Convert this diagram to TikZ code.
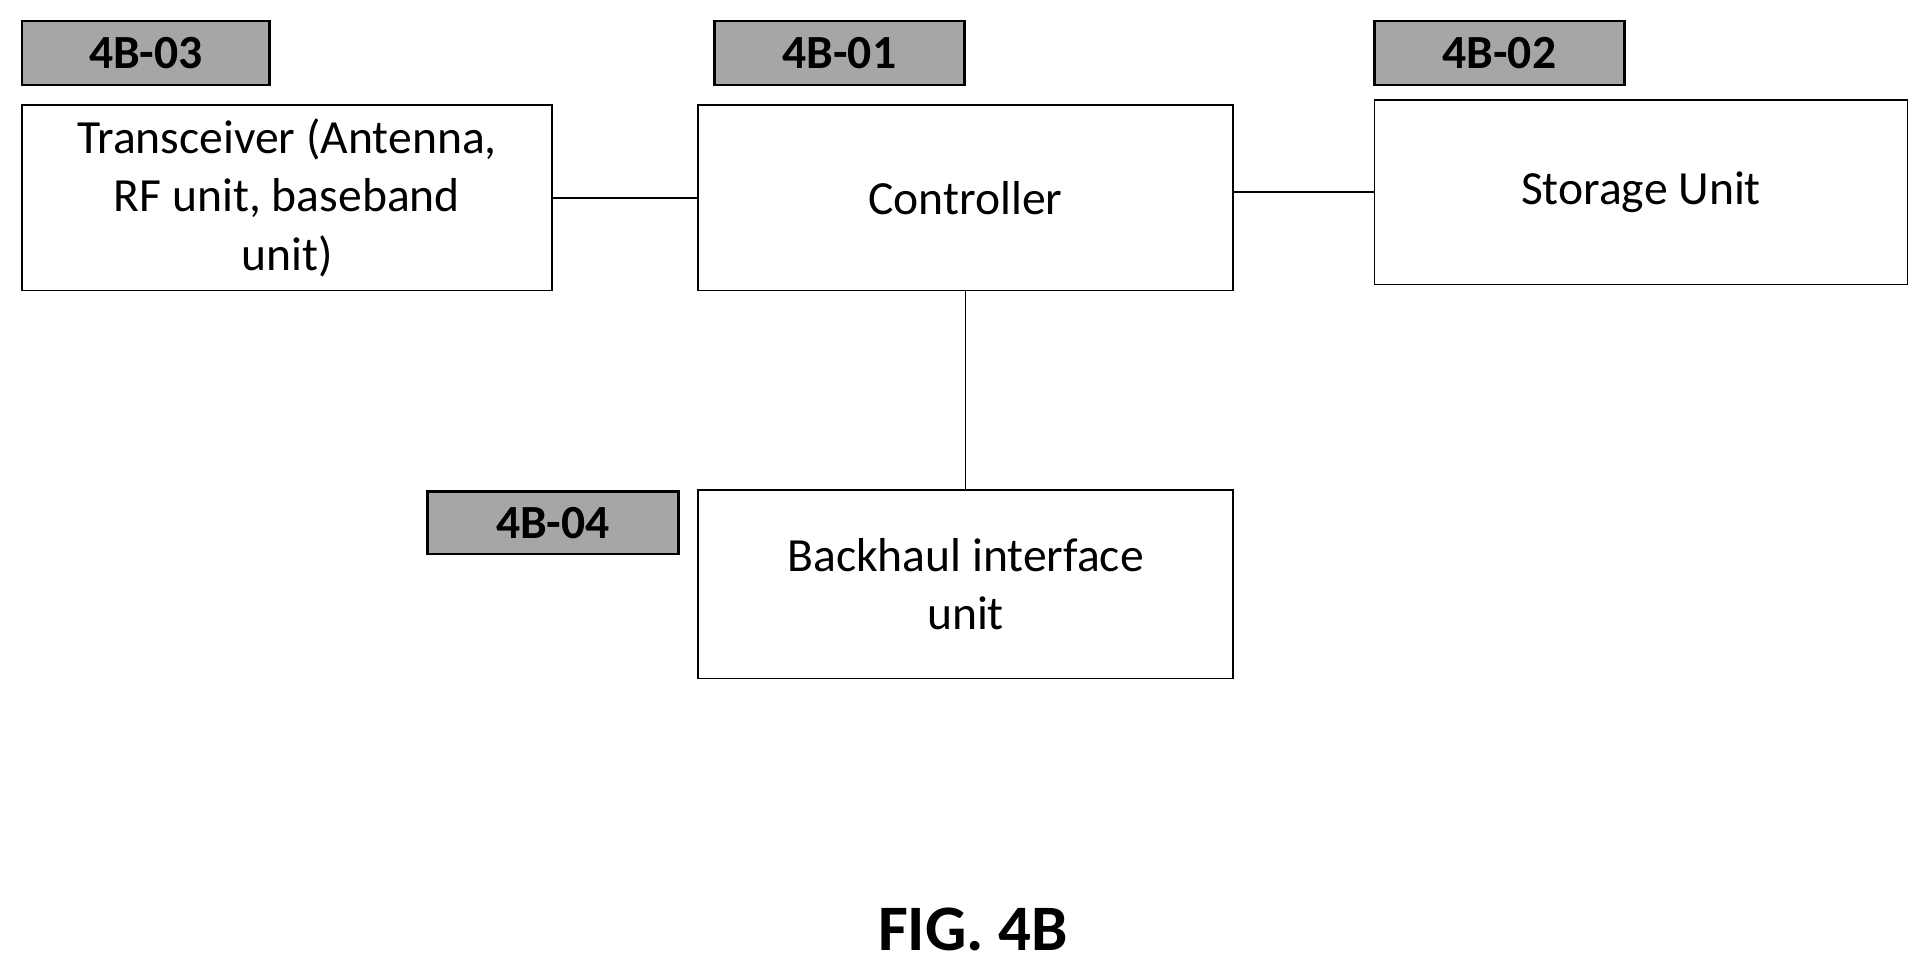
\documentclass[tikz,border=0pt]{standalone}
\usepackage{fontspec}
\setmainfont{Carlito}
\begin{document}
\begin{tikzpicture}[x=0.02cm,y=-0.02cm,
    block/.style={draw,thick,inner sep=0pt,align=center,font=\fontsize{22}{27}\selectfont},
    tag/.style={draw,very thick,fill=black!35,inner sep=0pt,font=\fontsize{22}{26}\selectfont\bfseries}]
    \useasboundingbox (0,0) rectangle (1568,790);
    % blocks
    \node[block,minimum width=430\pgflinewidth] (trx) at (233,160.5) [minimum width=8.6cm,minimum height=3.02cm] {Transceiver (Antenna,\\RF unit, baseband\\unit)};
    \node[block,minimum width=8.68cm,minimum height=3.02cm] (ctrl) at (784,160.5) {Controller};
    \node[block,minimum width=8.66cm,minimum height=3.0cm] (stor) at (1332.5,156) {Storage Unit};
    \node[block,minimum width=8.68cm,minimum height=3.06cm] (bh) at (784,474.5) {Backhaul interface\\unit};
    % tags
    \node[tag,minimum width=4.02cm,minimum height=1.04cm] (t3) at (118.5,43) {4B-03};
    \node[tag,minimum width=4.06cm,minimum height=1.04cm] (t1) at (681.5,43) {4B-01};
    \node[tag,minimum width=4.06cm,minimum height=1.04cm] (t2) at (1217.5,43) {4B-02};
    \node[tag,minimum width=4.08cm,minimum height=1.02cm] (t4) at (449,424.5) {4B-04};
    % links
    \draw[thick] (trx.east) -- (ctrl.east -| ctrl.west);
    \draw[thick] (ctrl.east |- stor.west) -- (stor.west);
    \draw[thick] (ctrl.south) -- (bh.north);
    \node[font=\fontsize{30}{36}\selectfont\bfseries] (fig) at (790,755) {FIG. 4B};
\end{tikzpicture}
\end{document}
